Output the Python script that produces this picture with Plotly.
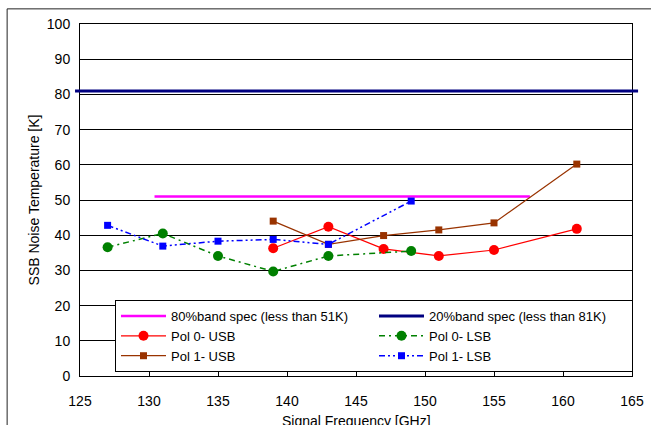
import plotly.graph_objects as go

# ---- data ----
freq_p0_usb = [139, 143, 147, 151, 155, 161]
temp_p0_usb = [36.3, 42.4, 36.1, 34.1, 35.8, 41.8]

freq_p0_lsb = [127, 131, 135, 139, 143, 149]
temp_p0_lsb = [36.6, 40.5, 34.1, 29.7, 34.1, 35.5]

freq_p1_usb = [139, 143, 147, 151, 155, 161]
temp_p1_usb = [44.0, 37.4, 39.9, 41.5, 43.5, 60.2]

freq_p1_lsb = [127, 131, 135, 139, 143, 149]
temp_p1_lsb = [42.8, 36.9, 38.3, 38.8, 37.4, 49.7]

spec80_freq = [130.4, 157.6]
spec80_value = 51
spec20_value = 81

x_ticks = [125, 130, 135, 140, 145, 150, 155, 160, 165]
y_ticks = [0, 10, 20, 30, 40, 50, 60, 70, 80, 90, 100]

FONT = "Liberation Sans, Arial, sans-serif"

fig = go.Figure()

fig.add_trace(go.Scatter(
    x=spec80_freq, y=[spec80_value] * len(spec80_freq), mode="lines",
    name="80%band spec (less than 51K)",
    line=dict(color="#FF00FF", width=2.5)))

fig.add_trace(go.Scatter(
    x=[None], y=[None], mode="lines",
    name="20%band spec (less than 81K)",
    line=dict(color="#000080", width=3)))

fig.add_trace(go.Scatter(
    x=freq_p0_usb, y=temp_p0_usb, mode="lines+markers", name="Pol 0- USB",
    line=dict(color="#FF0000", width=1.2),
    marker=dict(symbol="circle", size=10, color="#FF0000")))

fig.add_trace(go.Scatter(
    x=freq_p0_lsb, y=temp_p0_lsb, mode="lines+markers", name="Pol 0- LSB",
    line=dict(color="#008000", width=1.5, dash="6px,4px,2px,4px"),
    marker=dict(symbol="circle", size=10, color="#008000")))

fig.add_trace(go.Scatter(
    x=freq_p1_usb, y=temp_p1_usb, mode="lines+markers", name="Pol 1- USB",
    line=dict(color="#993300", width=1.2),
    marker=dict(symbol="square", size=7, color="#993300")))

fig.add_trace(go.Scatter(
    x=freq_p1_lsb, y=temp_p1_lsb, mode="lines+markers", name="Pol 1- LSB",
    line=dict(color="#0000FF", width=1.5, dash="6px,3px,2px,3px,2px,3px"),
    marker=dict(symbol="square", size=7, color="#0000FF")))

# 20% band spec line extends slightly beyond the plot area
fig.add_shape(type="line", xref="paper", yref="y",
              x0=-0.009, x1=1.011, y0=spec20_value, y1=spec20_value,
              line=dict(color="#000080", width=3), layer="above")

# outer chart border (top and left visible)
fig.add_shape(type="line", xref="paper", yref="paper",
              x0=-0.132, x1=1.2, y0=1.043, y1=1.043,
              line=dict(color="#222222", width=1))
fig.add_shape(type="line", xref="paper", yref="paper",
              x0=-0.132, x1=-0.132, y0=1.043, y1=-0.3,
              line=dict(color="#222222", width=1))

# x-axis title (placed partly below the visible page, as in the reference)
fig.add_annotation(text="Signal Frequency [GHz]", xref="paper", yref="paper",
                   x=0.5, y=-0.128, xanchor="center", yanchor="middle",
                   showarrow=False, font=dict(family=FONT, size=14, color="black"))

fig.update_layout(
    width=651, height=425,
    margin=dict(l=80, r=19, t=24, b=49, autoexpand=False),
    paper_bgcolor="white", plot_bgcolor="white",
    font=dict(family=FONT, size=13, color="black"),
    showlegend=True,
    legend=dict(
        orientation="h", x=0.0634, y=0.216, xanchor="left", yanchor="top",
        bgcolor="white", bordercolor="black", borderwidth=1,
        entrywidth=198, entrywidthmode="pixels", itemwidth=45,
        font=dict(family=FONT, size=13, color="black"),
    ),
    xaxis=dict(
        range=[125, 165], tickvals=x_ticks, ticktext=[str(v) for v in x_ticks],
        showgrid=False, zeroline=False, automargin=False,
        showline=True, linecolor="black", linewidth=1, mirror=True,
        ticks="inside", ticklen=4, tickcolor="black", ticklabelstandoff=12,
        tickfont=dict(family=FONT, size=14),
    ),
    yaxis=dict(
        range=[0, 100], tickvals=y_ticks, ticktext=[str(v) for v in y_ticks],
        showgrid=True, gridcolor="black", gridwidth=1, zeroline=False, automargin=False,
        showline=True, linecolor="black", linewidth=1, mirror=True,
        ticks="", ticklabelstandoff=6,
        tickfont=dict(family=FONT, size=14),
        title=dict(text="SSB Noise Temperature [K]", font=dict(family=FONT, size=14), standoff=3),
    ),
)

fig.write_html("out.html", config={"displayModeBar": False},
               post_script="document.body.style.margin='0';")
